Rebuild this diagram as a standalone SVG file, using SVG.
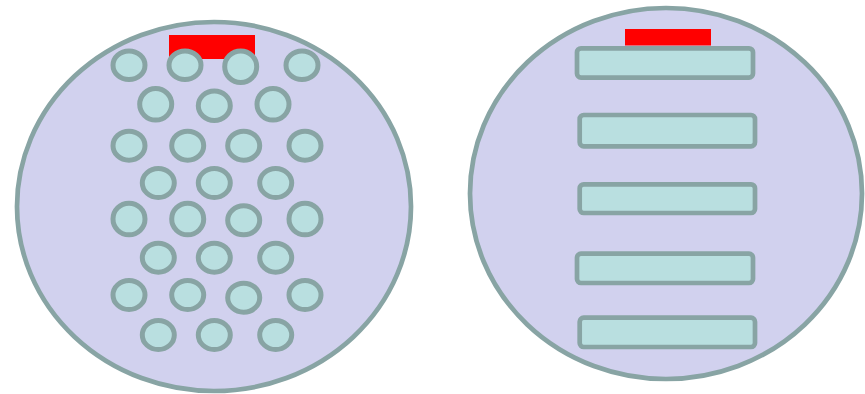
<svg xmlns="http://www.w3.org/2000/svg" width="865" height="394" viewBox="0 0 865 394">
<style>
.big{fill:#d1d1ee;stroke:#88a4a4;stroke-width:4.7}
.red{fill:#ff0000}
.tube{fill:#b9dfe0;stroke:#88a4a4;stroke-width:5}
.bar{fill:#b9dfe0;stroke:#88a4a4;stroke-width:4.7}
</style>
<g id="left">
<ellipse class="big" cx="214" cy="206.5" rx="197" ry="184.5"/>
<rect class="red" x="169" y="35" width="86" height="24"/>
<g id="tubes">
<ellipse class="tube" cx="129" cy="65.3" rx="16" ry="14.3"/>
<ellipse class="tube" cx="185" cy="65.3" rx="16" ry="14.3"/>
<ellipse class="tube" cx="240.7" cy="66.7" rx="16" ry="15.8"/>
<ellipse class="tube" cx="302" cy="65.3" rx="16" ry="14.3"/>
<ellipse class="tube" cx="155.7" cy="104.3" rx="16" ry="15.8"/>
<ellipse class="tube" cx="214.3" cy="105.7" rx="16" ry="14.8"/>
<ellipse class="tube" cx="273" cy="104.3" rx="16" ry="15.8"/>
<ellipse class="tube" cx="129" cy="145.7" rx="16" ry="14.5"/>
<ellipse class="tube" cx="187.7" cy="145.7" rx="16" ry="14.5"/>
<ellipse class="tube" cx="243.7" cy="145.7" rx="16" ry="14.5"/>
<ellipse class="tube" cx="305" cy="145.7" rx="16" ry="14.5"/>
<ellipse class="tube" cx="158.3" cy="183" rx="16" ry="14.5"/>
<ellipse class="tube" cx="214.3" cy="183" rx="16" ry="14.5"/>
<ellipse class="tube" cx="275.7" cy="183" rx="16" ry="14.5"/>
<ellipse class="tube" cx="129" cy="219" rx="16" ry="15.8"/>
<ellipse class="tube" cx="187.7" cy="219" rx="16" ry="15.8"/>
<ellipse class="tube" cx="243.7" cy="220.3" rx="16" ry="14.5"/>
<ellipse class="tube" cx="305" cy="219" rx="16" ry="15.8"/>
<ellipse class="tube" cx="158.3" cy="257.7" rx="16" ry="14.5"/>
<ellipse class="tube" cx="214.3" cy="257.7" rx="16" ry="14.5"/>
<ellipse class="tube" cx="275.7" cy="257.7" rx="16" ry="14.5"/>
<ellipse class="tube" cx="129" cy="295" rx="16" ry="14.5"/>
<ellipse class="tube" cx="187.7" cy="295" rx="16" ry="14.5"/>
<ellipse class="tube" cx="243.7" cy="297.7" rx="16" ry="14.5"/>
<ellipse class="tube" cx="305" cy="295" rx="16" ry="14.5"/>
<ellipse class="tube" cx="158.3" cy="335" rx="16" ry="14.5"/>
<ellipse class="tube" cx="214.3" cy="335" rx="16" ry="14.5"/>
<ellipse class="tube" cx="275.7" cy="335" rx="16" ry="14.5"/>
</g>
</g>
<g id="right">
<ellipse class="big" cx="666" cy="193.5" rx="196" ry="185.5"/>
<rect class="red" x="625" y="29" width="86" height="16.5"/>
<g id="bars">
<rect class="bar" x="577" y="48.3" width="176" height="29.3" rx="4"/>
<rect class="bar" x="579.7" y="115" width="175.3" height="31.3" rx="4"/>
<rect class="bar" x="579.7" y="184.3" width="175.3" height="28.7" rx="4"/>
<rect class="bar" x="577" y="253.7" width="176" height="29.3" rx="4"/>
<rect class="bar" x="579.7" y="317.7" width="175.3" height="29.3" rx="4"/>
</g>
</g>
</svg>
